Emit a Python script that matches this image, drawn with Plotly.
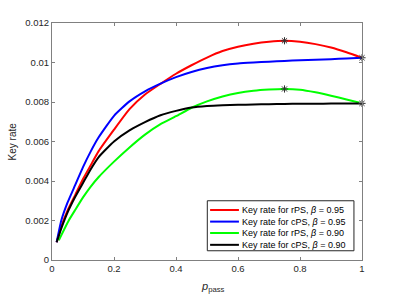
import plotly.graph_objects as go

x_grid = [0.015, 0.03, 0.05, 0.075, 0.1, 0.125, 0.15, 0.2, 0.25, 0.3, 0.35, 0.4, 0.45, 0.5,
          0.55, 0.6, 0.65, 0.7, 0.75, 0.8, 0.85, 0.9, 0.95, 1.0]
x_green = [0.022, 0.054, 0.075, 0.1, 0.125, 0.15, 0.2, 0.25, 0.3, 0.35, 0.4, 0.45, 0.5,
           0.55, 0.6, 0.65, 0.7, 0.75, 0.8, 0.85, 0.9, 0.95, 1.0]

rps_095 = [0.0009, 0.0017, 0.0025, 0.0033, 0.0041, 0.0048, 0.0055, 0.0066, 0.00764, 0.00838, 0.00892,
           0.00943, 0.00986, 0.01025, 0.01058, 0.0108, 0.01095, 0.01105, 0.0111, 0.01105, 0.01093,
           0.01076, 0.01052, 0.01024]
cps_095 = [0.0009, 0.002, 0.0029, 0.0038, 0.0047, 0.0055, 0.0062, 0.0073, 0.00803, 0.00854, 0.00893,
           0.00926, 0.00952, 0.00972, 0.00986, 0.00995, 0.01, 0.01004, 0.01008, 0.01011, 0.01014,
           0.01017, 0.0102, 0.01024]
rps_090 = [0.001, 0.002, 0.00254, 0.00317, 0.00372, 0.00419, 0.00498, 0.0057, 0.00635, 0.00688,
           0.00728, 0.00771, 0.00803, 0.00828, 0.00846, 0.00857, 0.00863, 0.00866, 0.00862, 0.00849,
           0.00832, 0.00813, 0.00793]
cps_090 = [0.0009, 0.0016, 0.0024, 0.0032, 0.0039, 0.0046, 0.0052, 0.006, 0.00656, 0.00698, 0.00733,
           0.00755, 0.00772, 0.0078, 0.00784, 0.00786, 0.00787, 0.00789, 0.0079, 0.00791, 0.00791,
           0.00792, 0.00793, 0.00793]

marker_x = [0.75, 1.0, 0.75, 1.0]
marker_y = [0.0111, 0.01024, 0.00866, 0.00793]

x_ticks = [0, 0.2, 0.4, 0.6, 0.8, 1]
x_tick_labels = ["0", "0.2", "0.4", "0.6", "0.8", "1"]
y_ticks = [0, 0.002, 0.004, 0.006, 0.008, 0.01, 0.012]
y_tick_labels = ["0", "0.002", "0.004", "0.006", "0.008", "0.01", "0.012"]

legend_names = ["Key rate for rPS, <i>β</i> = 0.95", "Key rate for cPS, <i>β</i> = 0.95",
                "Key rate for rPS, <i>β</i> = 0.90", "Key rate for cPS, <i>β</i> = 0.90"]
colors = ["#ff0000", "#0000ff", "#00ff00", "#000000"]
series_x = [x_grid, x_grid, x_green, x_grid]
series_y = [rps_095, cps_095, rps_090, cps_090]

fig = go.Figure()
for name, xs, ys, col in zip(legend_names, series_x, series_y, colors):
    fig.add_trace(go.Scatter(x=xs, y=ys, mode="lines", name=name, showlegend=False,
                             line=dict(color=col, width=2, shape="spline", smoothing=0.5)))
fig.add_trace(go.Scatter(x=marker_x, y=marker_y, mode="markers", showlegend=False, cliponaxis=False,
                         marker=dict(symbol="asterisk-open", size=6, color="#303030",
                                     line=dict(width=1, color="#303030"))))

axis_common = dict(showline=True, linecolor="#808080", linewidth=1, mirror="ticks",
                   ticks="inside", ticklen=3, tickcolor="#808080", showgrid=False, zeroline=False,
                   automargin=False,
                   tickfont=dict(family="Arial", size=9.5, color="#262626"))
fig.update_xaxes(range=[0, 1], tickvals=x_ticks, ticktext=x_tick_labels, **axis_common)
fig.update_yaxes(range=[0, 0.012], tickvals=y_ticks, ticktext=y_tick_labels, **axis_common)

# axis titles
fig.add_annotation(text="<i>p</i><sub>pass</sub>", xref="paper", yref="paper", x=0.519, y=-0.115,
                   xanchor="center", yanchor="middle", showarrow=False,
                   font=dict(family="Arial", size=11, color="#262626"))
fig.add_annotation(text="Key rate", xref="paper", yref="paper", x=-0.126, y=0.5, textangle=-90,
                   xanchor="center", yanchor="middle", showarrow=False,
                   font=dict(family="Arial", size=10, color="#262626"))

# manual legend (box, line samples, labels)
lx0, lx1, ly0, ly1 = 0.501, 0.974, 0.039, 0.250
fig.add_shape(type="rect", xref="paper", yref="paper", x0=lx0, x1=lx1, y0=ly0, y1=ly1,
              line=dict(color="#262626", width=1), fillcolor="white", layer="above")
row_y = [0.211, 0.162, 0.114, 0.064]
for name, col, ry in zip(legend_names, colors, row_y):
    fig.add_shape(type="line", xref="paper", yref="paper", x0=0.510, x1=0.603, y0=ry, y1=ry,
                  line=dict(color=col, width=2), layer="above")
    fig.add_annotation(text=name, xref="paper", yref="paper", x=0.608, y=ry,
                       xanchor="left", yanchor="middle", showarrow=False,
                       font=dict(family="Arial", size=9, color="#000000"))

fig.update_layout(
    width=399, height=299,
    margin=dict(l=52, r=37, t=23, b=39),
    paper_bgcolor="white", plot_bgcolor="white",
    showlegend=False,
)
fig.write_html("out.html", config={"displayModeBar": False},
               post_script="document.body.style.margin='0px';document.body.style.padding='0px';")
